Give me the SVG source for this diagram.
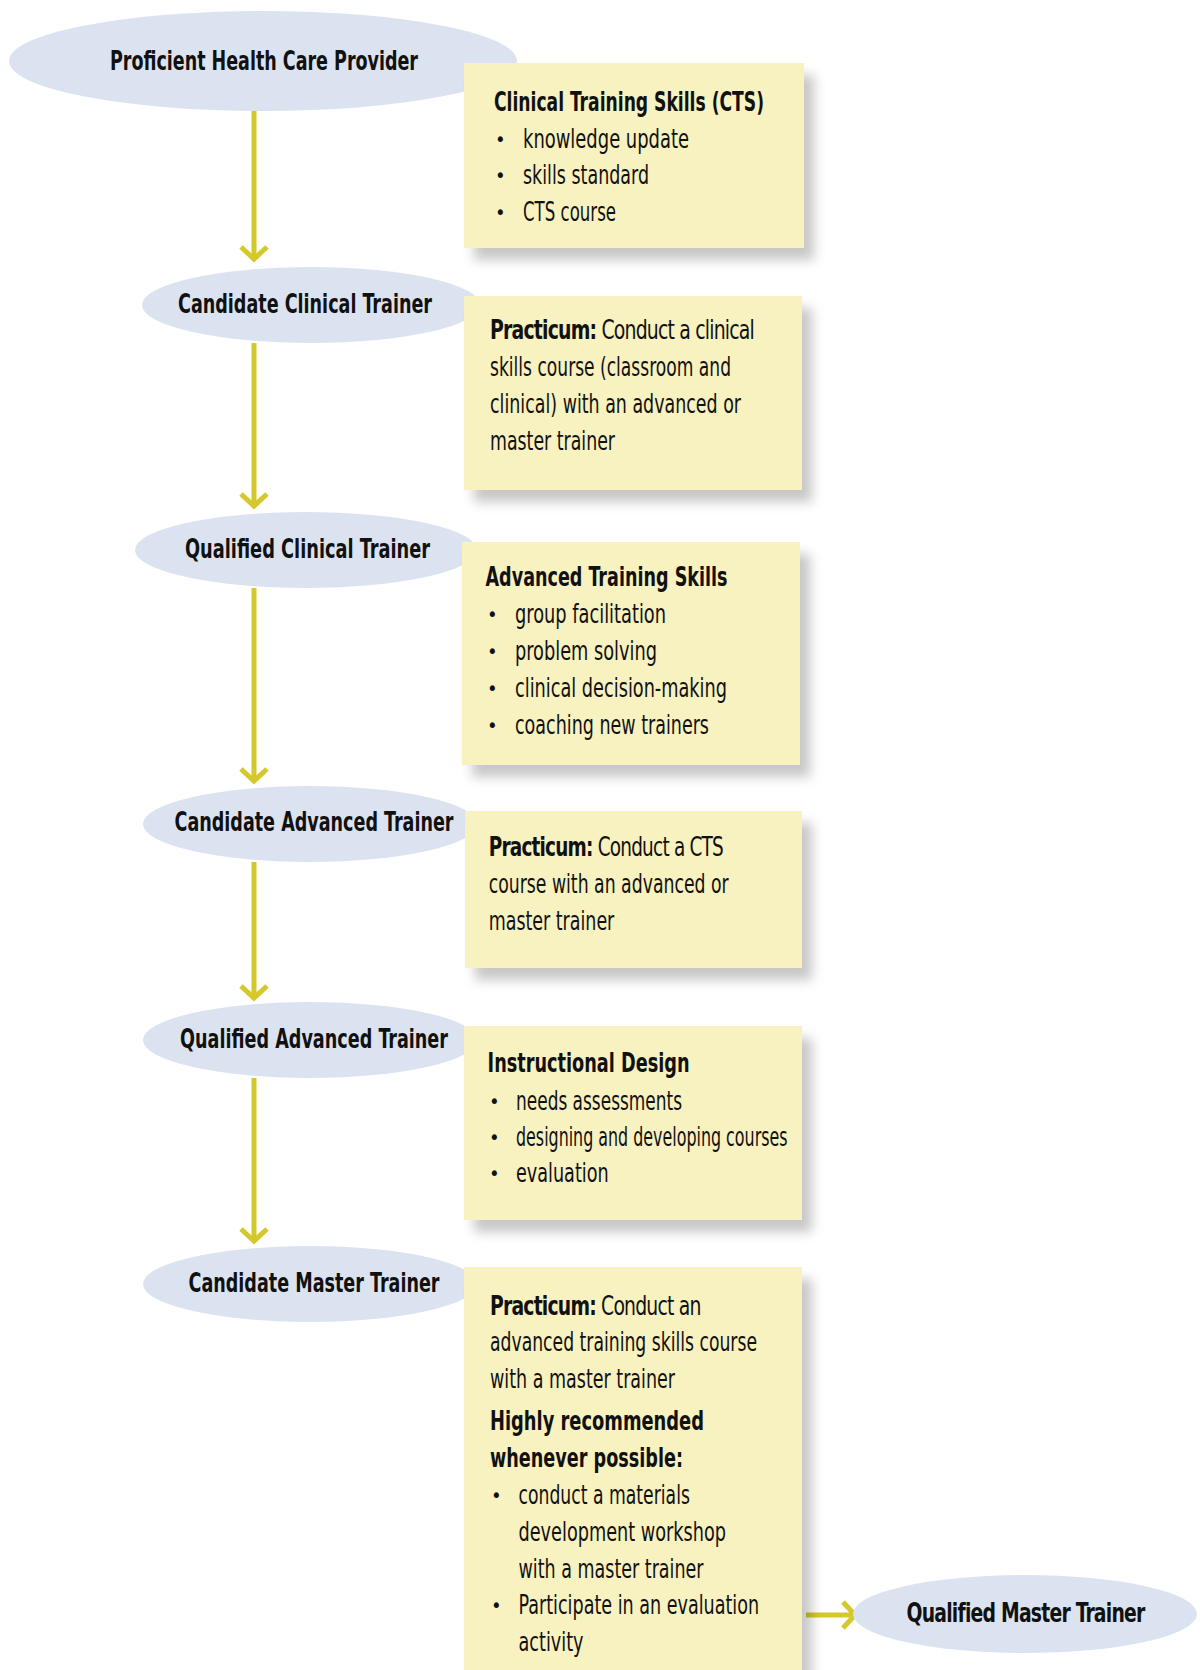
<svg xmlns="http://www.w3.org/2000/svg" width="1202" height="1670" viewBox="0 0 1202 1670">
<style>
.ell{fill:#dce3f0}
.box{fill:#f8f1c0;filter:url(#sh)}
text{font-family:"Liberation Sans Narrow","DejaVu Sans Condensed","Liberation Sans",sans-serif;font-size:26px;fill:#111}
.b{font-weight:bold}
.d{font-size:20px}
.t{font-weight:bold;font-size:27px;text-anchor:middle}
.p{letter-spacing:-1px}
.con{stroke:#d4c82a;stroke-width:5;fill:none;marker-end:url(#ah)}
</style>
<defs>
<filter id="sh" x="-10%" y="-10%" width="130%" height="130%">
<feDropShadow dx="10" dy="12" stdDeviation="6" flood-color="#000" flood-opacity="0.22"/>
</filter>
<marker id="ah" markerUnits="userSpaceOnUse" viewBox="-20 -20 30 40" refX="0" refY="0" markerWidth="30" markerHeight="40" orient="auto" overflow="visible">
<path d="M -12 -13 L 0 0 L -12 13" stroke="#d4c82a" stroke-width="5" fill="none"/>
</marker>
</defs>

<g id="connectors">
<path class="con" d="M254 111 V259"/>
<path class="con" d="M254 343 V506"/>
<path class="con" d="M254 588 V781"/>
<path class="con" d="M254 862 V998"/>
<path class="con" d="M254 1078 V1241"/>
<path class="con" d="M806 1615 H855"/>
</g>

<g id="n1"><ellipse class="ell" cx="263" cy="61" rx="254" ry="50"/>
<text class="t" x="264" y="70" textLength="308" lengthAdjust="spacingAndGlyphs">Proficient Health Care Provider</text></g>

<g id="n2"><ellipse class="ell" cx="311" cy="305" rx="169" ry="38"/>
<text class="t" x="305" y="313" textLength="254" lengthAdjust="spacingAndGlyphs">Candidate Clinical Trainer</text></g>

<g id="n3"><ellipse class="ell" cx="306" cy="550" rx="171" ry="38"/>
<text class="t" x="307.5" y="558" textLength="245" lengthAdjust="spacingAndGlyphs">Qualified Clinical Trainer</text></g>

<g id="n4"><ellipse class="ell" cx="310" cy="824" rx="167" ry="38"/>
<text class="t" x="314" y="831" textLength="279" lengthAdjust="spacingAndGlyphs">Candidate Advanced Trainer</text></g>

<g id="n5"><ellipse class="ell" cx="310" cy="1040" rx="167" ry="38"/>
<text class="t" x="314" y="1048" textLength="268" lengthAdjust="spacingAndGlyphs">Qualified Advanced Trainer</text></g>

<g id="n6"><ellipse class="ell" cx="310" cy="1284" rx="167" ry="38"/>
<text class="t" x="314" y="1292" textLength="251" lengthAdjust="spacingAndGlyphs">Candidate Master Trainer</text></g>

<g id="n7"><ellipse class="ell" cx="1025" cy="1614" rx="172" ry="39"/>
<text class="t p" x="1025.5" y="1622" textLength="238" lengthAdjust="spacingAndGlyphs">Qualified Master Trainer</text></g>

<g id="b1"><rect class="box" x="464" y="63" width="340" height="185"/>
<text class="b" x="494" y="111" textLength="270" lengthAdjust="spacingAndGlyphs">Clinical Training Skills (CTS)</text>
<text class="d" x="495" y="146">•</text><text x="523" y="148" textLength="166" lengthAdjust="spacingAndGlyphs">knowledge update</text>
<text class="d" x="495" y="182">•</text><text x="523" y="184" textLength="126" lengthAdjust="spacingAndGlyphs">skills standard</text>
<text class="d" x="495" y="219">•</text><text x="523" y="221" textLength="93" lengthAdjust="spacingAndGlyphs">CTS course</text>
</g>

<g id="b2"><rect class="box" x="464" y="296" width="338" height="194"/>
<text class="p" x="490" y="339" textLength="264" lengthAdjust="spacingAndGlyphs"><tspan class="b">Practicum:</tspan> Conduct a clinical</text>
<text x="490" y="376" textLength="241" lengthAdjust="spacingAndGlyphs">skills course (classroom and</text>
<text x="490" y="413" textLength="251" lengthAdjust="spacingAndGlyphs">clinical) with an advanced or</text>
<text x="490" y="450" textLength="125" lengthAdjust="spacingAndGlyphs">master trainer</text>
</g>

<g id="b3"><rect class="box" x="462" y="542" width="338" height="223"/>
<text class="b" x="485.5" y="586" textLength="242" lengthAdjust="spacingAndGlyphs">Advanced Training Skills</text>
<text class="d" x="487" y="621">•</text><text x="515" y="623" textLength="151" lengthAdjust="spacingAndGlyphs">group facilitation</text>
<text class="d" x="487" y="658">•</text><text x="515" y="660" textLength="142" lengthAdjust="spacingAndGlyphs">problem solving</text>
<text class="d" x="487" y="695">•</text><text x="515" y="697" textLength="212" lengthAdjust="spacingAndGlyphs">clinical decision-making</text>
<text class="d" x="487" y="732">•</text><text x="515" y="734" textLength="194" lengthAdjust="spacingAndGlyphs">coaching new trainers</text>
</g>

<g id="b4"><rect class="box" x="465" y="811" width="337" height="157"/>
<text class="p" x="488.7" y="856" textLength="234.3" lengthAdjust="spacingAndGlyphs"><tspan class="b">Practicum:</tspan> Conduct a CTS</text>
<text x="488.7" y="893" textLength="240" lengthAdjust="spacingAndGlyphs">course with an advanced or</text>
<text x="488.7" y="930" textLength="125.6" lengthAdjust="spacingAndGlyphs">master trainer</text>
</g>

<g id="b5"><rect class="box" x="464" y="1026" width="338" height="194"/>
<text class="b" x="487.6" y="1072" textLength="202" lengthAdjust="spacingAndGlyphs">Instructional Design</text>
<text class="d" x="489" y="1108">•</text><text x="516" y="1110" textLength="166" lengthAdjust="spacingAndGlyphs">needs assessments</text>
<text class="d" x="489" y="1144">•</text><text x="516" y="1146" textLength="271.5" lengthAdjust="spacingAndGlyphs">designing and developing courses</text>
<text class="d" x="489" y="1180">•</text><text x="516" y="1182" textLength="92.6" lengthAdjust="spacingAndGlyphs">evaluation</text>
</g>

<g id="b6"><rect class="box" x="464" y="1267" width="338" height="420"/>
<text class="p" x="490" y="1315" textLength="210.6" lengthAdjust="spacingAndGlyphs"><tspan class="b">Practicum:</tspan> Conduct an</text>
<text x="490" y="1351" textLength="267" lengthAdjust="spacingAndGlyphs">advanced training skills course</text>
<text x="490" y="1388" textLength="185" lengthAdjust="spacingAndGlyphs">with a master trainer</text>
<text x="490" y="1430" class="b" textLength="214" lengthAdjust="spacingAndGlyphs">Highly recommended</text>
<text x="490" y="1467" class="b" textLength="193" lengthAdjust="spacingAndGlyphs">whenever possible:</text>
<text class="d" x="491" y="1502">•</text><text x="518.5" y="1504" textLength="171.4" lengthAdjust="spacingAndGlyphs">conduct a materials</text>
<text x="518.5" y="1541" textLength="207.6" lengthAdjust="spacingAndGlyphs">development workshop</text>
<text x="518.5" y="1578" textLength="185" lengthAdjust="spacingAndGlyphs">with a master trainer</text>
<text class="d" x="491" y="1612">•</text><text x="518.5" y="1614" textLength="240.6" lengthAdjust="spacingAndGlyphs">Participate in an evaluation</text>
<text x="518.5" y="1651" textLength="65" lengthAdjust="spacingAndGlyphs">activity</text>
</g>
</svg>
